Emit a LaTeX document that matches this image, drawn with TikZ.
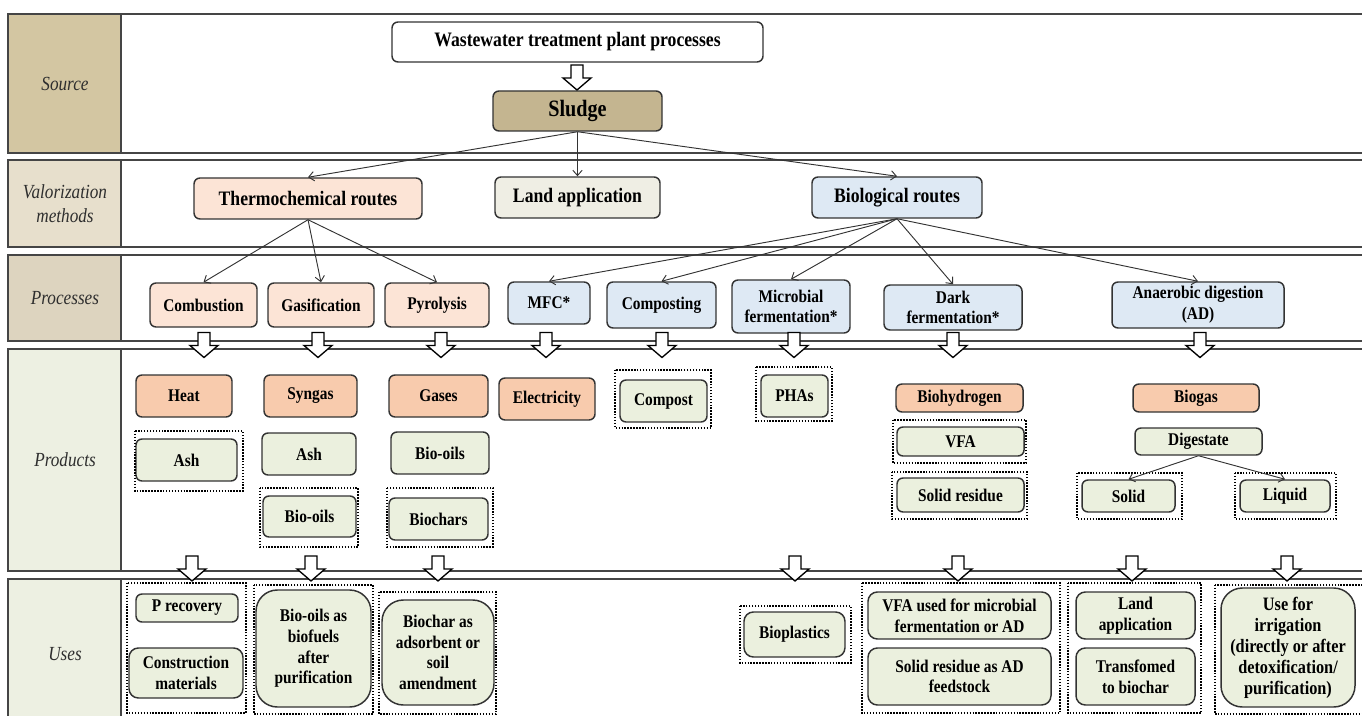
\documentclass[tikz,border=0pt]{standalone}
\usepackage{fontspec}
\setmainfont{Liberation Serif}[FakeStretch=0.86]
\usetikzlibrary{arrows.meta}
\definecolor{srcfill}{HTML}{D3C6A2}
\definecolor{valfill}{HTML}{E7DFCC}
\definecolor{procfill}{HTML}{DDD4BF}
\definecolor{prodfill}{HTML}{EDF0E2}
\definecolor{sludgefill}{HTML}{C4B590}
\definecolor{warmfill}{HTML}{FCE4D6}
\definecolor{landfill}{HTML}{EFEEE4}
\definecolor{coolfill}{HTML}{DEE9F4}
\definecolor{hotfill}{HTML}{F8CBAD}
\definecolor{leaffill}{HTML}{EBF0DE}
\definecolor{edge}{HTML}{333333}
\definecolor{bandline}{HTML}{454545}
\definecolor{labtext}{HTML}{2E2E2E}
\tikzset{
  box/.style   ={draw=edge, line width=1.1pt, rounded corners=4.5pt, align=center,
                 inner sep=1pt, font=\fontsize{13.4}{15.5}\selectfont\bfseries},
  wh/.style 2 args={minimum width=#1*0.75pt, minimum height=#2*0.75pt},
  route/.style ={font=\fontsize{15.4}{17}\selectfont\bfseries},
  grp/.style   ={draw=black, line width=1.1pt, dash pattern=on 1.1pt off 1.1pt},
  flow/.style  ={draw=edge, line width=0.7pt, -{Straight Barb[length=4pt,width=7pt]}},
  band/.style  ={draw=bandline, line width=2pt},
  lab/.style   ={align=center, text=labtext, font=\fontsize{15}{17.5}\selectfont\itshape},
  % hollow block arrow that sits across a band boundary
  blkarrow/.pic={\draw[line width=1pt, fill=white, line join=miter]
                 (-6,-12) -- (6,-12) -- (6,1) -- (14,1) -- (0,13) -- (-14,1) -- (-6,1) -- cycle;},
}
\begin{document}
\begin{tikzpicture}[x=0.75pt, y=-0.75pt]
\useasboundingbox (0,0) rectangle (1362,716);
\clip (0,0) rectangle (1362,716);
% bands with their labels
\foreach \ya/\yb/\col/\lab [count=\i] in {14/153/srcfill/Source, 160/247/valfill/{Valorization\\methods},
    255/341/procfill/Processes, 349/571/prodfill/Products, 579/730/prodfill/Uses}{
  \fill[\col] (8,\ya) rectangle (121,\yb);
  \draw[band] (8,\ya) rectangle (1390,\yb);
  \draw[band] (121,\ya) -- (121,\yb);
  \node[lab] (lab\i) at (65,{(\ya+\yb)/2}) {\lab};
}
% source
\node[box, route, fill=white, wh={371}{40}] (wwtp) at (577.5,42) {Wastewater treatment plant processes};
\node[box, fill=sludgefill, wh={169}{40}, font=\fontsize{17.6}{19}\selectfont\bfseries] (sludge) at (577.5,111) {Sludge};
\pic (a0) at (577,77) {blkarrow};
% valorization methods
\node[box, route, fill=warmfill, wh={228}{41}] (thermo) at (308,198.5) {Thermochemical routes};
\node[box, route, fill=landfill, wh={165}{41}] (landapp) at (577.5,197.5) {Land application};
\node[box, route, fill=coolfill, wh={170}{41}] (bio) at (897,197.5) {Biological routes};
% processes
\foreach \n/\x/\y/\w/\h/\f/\t in {comb/203.5/305/107/44/warmfill/Combustion,
    gasi/321/305/106/44/warmfill/Gasification, pyro/437/305/104/44/warmfill/Pyrolysis,
    mfc/549/303/82/42/coolfill/MFC*, compo/661.5/305/109/46/coolfill/Composting,
    micro/791/306.5/118/53/coolfill/{Microbial\\fermentation*},
    dark/953/307.5/138/45/coolfill/{Dark\\fermentation*},
    ad/1198/305/172/46/coolfill/{Anaerobic digestion\\(AD)}}
  \node[box, fill=\f, wh={\w}{\h}] (\n) at (\x,\y) {\t};
% products
\foreach \n/\x/\y/\w/\h/\f/\t in {heat/184/396/96/42/hotfill/Heat,
    syngas/310.5/396/93/42/hotfill/Syngas, gases/438.5/396/99/42/hotfill/Gases,
    elec/547/399/96/42/hotfill/Electricity, bioh/959.5/398/127/28/hotfill/Biohydrogen,
    biogas/1196/398/126/28/hotfill/Biogas,
    ash/186.5/460/101/42/leaffill/Ash, ashb/309/454/94/42/leaffill/Ash,
    oilb/309.5/516.5/93/41/leaffill/Bio-oils, oilc/440/453/98/42/leaffill/Bio-oils,
    char/438.5/519/99/42/leaffill/Biochars, compost/663.5/401/87/42/leaffill/Compost,
    pha/794.5/396/67/42/leaffill/PHAs, vfa/960.5/441.5/127/29/leaffill/VFA,
    solres/960.5/495/127/34/leaffill/Solid residue, digest/1198.5/441.5/127/27/leaffill/Digestate,
    solid/1128.5/496/93/32/leaffill/Solid, liquid/1285/496/90/32/leaffill/Liquid}
  \node[box, fill=\f, wh={\w}{\h}] (\n) at (\x,\y) {\t};
% uses
\foreach \n/\x/\y/\w/\h/\r/\t in {precov/187/608/102/28/4.5/P recovery,
    constr/186/673/114/50/7/{Construction\\materials},
    biofuel/313.5/648.5/115/117/16/{Bio-oils as\\biofuels\\after\\purification},
    charuse/438/652.5/112/105/16/{Biochar as\\adsorbent or\\soil\\amendment},
    bioplast/794.5/634.5/101/45/7/Bioplastics,
    vfause/959.5/615.5/183/47/7/{VFA used for microbial\\fermentation or AD},
    resfeed/959.5/676.5/183/57/7/{Solid residue as AD\\feedstock},
    landuse/1135.5/615.5/119/47/7/{Land\\application},
    transf/1135.5/676.5/119/57/7/{Transfomed\\to biochar}}
  \node[box, fill=leaffill, rounded corners=\r pt, wh={\w}{\h}] (\n) at (\x,\y) {\t};
\node[box, fill=leaffill, rounded corners=16pt, wh={134}{119}, font=\fontsize{14.2}{15.8}\selectfont\bfseries]
  (irrig) at (1288,647.5) {Use for\\irrigation\\(directly or after\\detoxification/\\purification)};
% dotted groups
\foreach \xa/\ya/\xb/\yb in {135/431/243/491, 260/488/358/547, 387/488/493/547, 615/370/711/428,
    756/367/832/421, 893/420/1026/463, 892/472/1027/519, 1077/473/1182/519, 1235/473/1336/519,
    127/583/246/713, 254/585/373/714, 379/592/496/714, 740/606/851/663,
    862/583/1060/713, 1068/583/1201/713, 1215/585/1390/714}
  \draw[grp] (\xa,\ya) rectangle (\xb,\yb);
% block arrows between bands
\foreach \x [count=\i] in {204,318,441,546,662,794,953,1200} \pic (pa\i) at (\x,344.5) {blkarrow};
\foreach \x [count=\i] in {192,311,438,795,958,1132,1287} \pic (ua\i) at (\x,568) {blkarrow};
% thin arrows
\foreach \b in {thermo,landapp,bio} \draw[flow] (sludge.south) -- (\b.north);
\foreach \b in {comb,gasi,pyro} \draw[flow] (thermo.south) -- (\b.north);
\foreach \b in {mfc,compo,micro,dark,ad} \draw[flow] (bio.south) -- (\b.north);
\foreach \b in {solid,liquid} \draw[flow] (digest.south) -- (\b.north);
\end{tikzpicture}
\end{document}
